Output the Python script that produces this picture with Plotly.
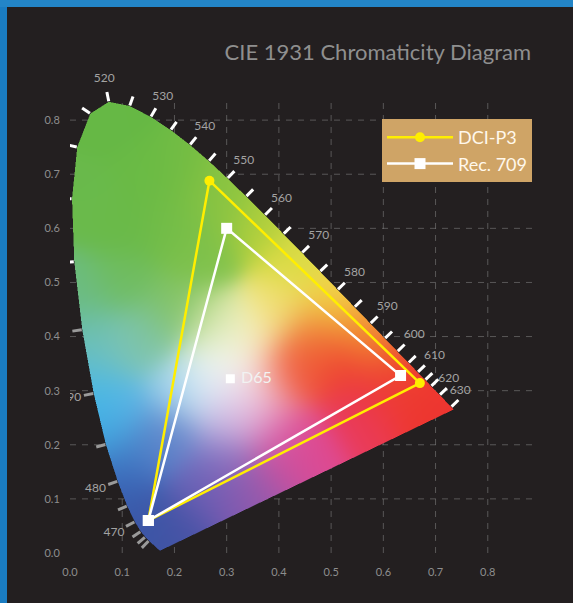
import base64
import struct
import zlib

import numpy as np
import plotly.graph_objects as go

# ---------------- data ----------------
WAVELENGTHS = list(range(380, 705, 5))
LOCUS_X = [0.1741, 0.1740, 0.1738, 0.1736, 0.1733, 0.1730, 0.1726, 0.1721, 0.1714, 0.1703,
           0.1689, 0.1669, 0.1644, 0.1611, 0.1566, 0.1510, 0.1440, 0.1355, 0.1241, 0.1096,
           0.0913, 0.0687, 0.0454, 0.0235, 0.0082, 0.0039, 0.0139, 0.0389, 0.0743, 0.1142,
           0.1547, 0.1929, 0.2296, 0.2658, 0.3016, 0.3373, 0.3731, 0.4087, 0.4441, 0.4788,
           0.5125, 0.5448, 0.5752, 0.6029, 0.6270, 0.6482, 0.6658, 0.6801, 0.6915, 0.7006,
           0.7079, 0.7140, 0.7190, 0.7230, 0.7260, 0.7283, 0.7300, 0.7311, 0.7320, 0.7327,
           0.7334, 0.7340, 0.7344, 0.7346, 0.7347]
LOCUS_Y = [0.0050, 0.0050, 0.0049, 0.0049, 0.0048, 0.0048, 0.0048, 0.0048, 0.0051, 0.0058,
           0.0069, 0.0086, 0.0109, 0.0138, 0.0177, 0.0227, 0.0297, 0.0399, 0.0578, 0.0868,
           0.1327, 0.2007, 0.2950, 0.4127, 0.5384, 0.6548, 0.7502, 0.8120, 0.8338, 0.8262,
           0.8059, 0.7816, 0.7543, 0.7243, 0.6923, 0.6589, 0.6245, 0.5896, 0.5547, 0.5202,
           0.4866, 0.4544, 0.4242, 0.3965, 0.3725, 0.3514, 0.3340, 0.3197, 0.3083, 0.2993,
           0.2920, 0.2859, 0.2809, 0.2770, 0.2740, 0.2717, 0.2700, 0.2689, 0.2680, 0.2673,
           0.2666, 0.2660, 0.2656, 0.2654, 0.2653]

TICK_WL = list(range(455, 625, 5)) + [630, 660]
LABEL_WL = [470, 480, 490, 500, 510, 520, 530, 540, 550, 560, 570, 580, 590, 600, 610, 620, 630]

DCI_P3_X = [0.150, 0.267, 0.670, 0.150]
DCI_P3_Y = [0.060, 0.688, 0.314, 0.060]
REC709_X = [0.150, 0.300, 0.633, 0.150]
REC709_Y = [0.060, 0.600, 0.328, 0.060]
D65_X = [0.307]
D65_Y = [0.322]

AXIS_TICKS = [0.0, 0.1, 0.2, 0.3, 0.4, 0.5, 0.6, 0.7, 0.8]
AXIS_TICK_TEXT = ["0.0", "0.1", "0.2", "0.3", "0.4", "0.5", "0.6", "0.7", "0.8"]

# colour samples: chromaticity x, y and the colour seen there
ANCHOR_X = [0.08, 0.15, 0.03, 0.22, 0.10, 0.20, 0.25, 0.28,
            0.30, 0.36, 0.43, 0.50, 0.56, 0.60, 0.65, 0.70,
            0.40, 0.35, 0.47, 0.45, 0.52, 0.40,
            0.45, 0.55, 0.40, 0.35, 0.30, 0.25, 0.30, 0.38, 0.33, 0.60,
            0.16, 0.12, 0.22, 0.10, 0.15, 0.07, 0.05, 0.10, 0.20, 0.20,
            0.04, 0.03, 0.10, 0.02, 0.10, 0.15, 0.20,
            0.27, 0.32, 0.25, 0.30, 0.27, 0.30, 0.35]
ANCHOR_Y = [0.80, 0.70, 0.65, 0.70, 0.60, 0.60, 0.55, 0.63,
            0.68, 0.61, 0.54, 0.47, 0.42, 0.38, 0.33, 0.28,
            0.45, 0.40, 0.40, 0.35, 0.35, 0.33,
            0.20, 0.26, 0.17, 0.12, 0.10, 0.12, 0.18, 0.24, 0.27, 0.30,
            0.03, 0.08, 0.05, 0.15, 0.20, 0.22, 0.27, 0.27, 0.30, 0.22,
            0.33, 0.40, 0.38, 0.48, 0.50, 0.40, 0.45,
            0.33, 0.33, 0.30, 0.38, 0.42, 0.25, 0.30]
ANCHOR_COLOR = ["#66b845", "#6abb45", "#6aba4c", "#74bd44", "#6aba48", "#72bd48", "#80c24c", "#86c344",
                "#8ec640", "#b2d03c", "#dcdc44", "#f2d848", "#f4a838", "#f07030", "#ee4030", "#ee3530",
                "#f0e070", "#f8f0b8", "#f08838", "#ef5035", "#ee3c30", "#f26a50",
                "#e04a92", "#ea3b5a", "#c850a0", "#9a5aac", "#7a58b0", "#6a64b8", "#8a78c4", "#e070b0",
                "#e8c8e8", "#ee3834",
                "#3d55a5", "#3a5aaa", "#4852a5", "#3b6cbc", "#5080c8", "#40a0dc", "#3cb8ea", "#60b8e8",
                "#98d0ec", "#6a88cc",
                "#5cbcd8", "#6cbfb0", "#7cc4b8", "#6cbc80", "#70bd60", "#80c4a0", "#80c262",
                "#eef5f8", "#fafafa", "#d0e8f5", "#f0f5e0", "#c8e098", "#c0b0e0", "#f5e0ec"]

# ---------------- geometry of the figure ----------------
FIG_W, FIG_H = 573, 603
M_L, M_R, M_T, M_B = 70, 33, 66, 50
X_MAX, Y_MAX = 0.9, 0.9
PLOT_W = FIG_W - M_L - M_R
PLOT_H = FIG_H - M_T - M_B
SX = PLOT_W / X_MAX
SY = PLOT_H / Y_MAX

# label placement near the crowded red end: (text position, offset in px)
LABEL_PLACE = {620: ("middle right", 10), 630: ("bottom right", 14)}


def hex_rgb(h):
    h = h.lstrip("#")
    return [int(h[i:i + 2], 16) for i in (0, 2, 4)]


def inside_polygon(px, py, vx, vy):
    res = np.zeros(px.shape, dtype=bool)
    n = len(vx)
    j = n - 1
    for i in range(n):
        yi, yj = vy[i], vy[j]
        xi, xj = vx[i], vx[j]
        if yi != yj:
            cond = ((yi > py) != (yj > py)) & (px < (xj - xi) * (py - yi) / (yj - yi) + xi)
            res ^= cond
        j = i
    return res


# colour fill of the spectral locus as an image
W_IMG, H_IMG = PLOT_W, PLOT_H
lx = np.array(LOCUS_X)
ly = np.array(LOCUS_Y)

SS = 2
xs = (np.arange(W_IMG * SS) + 0.5) / (W_IMG * SS) * X_MAX
ys = Y_MAX - (np.arange(H_IMG * SS) + 0.5) / (H_IMG * SS) * Y_MAX
GX, GY = np.meshgrid(xs, ys)
mask = inside_polygon(GX, GY, lx, ly).astype(float)
mask = mask.reshape(H_IMG, SS, W_IMG, SS).mean(axis=(1, 3))

xc = (np.arange(W_IMG) + 0.5) / W_IMG * X_MAX
yc = Y_MAX - (np.arange(H_IMG) + 0.5) / H_IMG * Y_MAX
CX, CY = np.meshgrid(xc, yc)
ax = np.array(ANCHOR_X)
ay = np.array(ANCHOR_Y)
ac = np.array([hex_rgb(c) for c in ANCHOR_COLOR], dtype=float)
d2 = (CX[..., None] - ax) ** 2 + (CY[..., None] - ay) ** 2
sigma = 0.042
logw = -d2 / (2 * sigma ** 2)
logw -= logw.max(axis=-1, keepdims=True)
w = np.exp(logw)
w /= w.sum(axis=-1, keepdims=True)
rgb = np.einsum("hwa,ac->hwc", w, ac)
rgba = np.zeros((H_IMG, W_IMG, 4), dtype=np.uint8)
rgba[..., :3] = np.clip(rgb, 0, 255).astype(np.uint8)
rgba[..., 3] = np.clip(mask * 255, 0, 255).astype(np.uint8)


def to_png(arr):
    h, wd, _ = arr.shape
    raw = b"".join(b"\x00" + arr[r].tobytes() for r in range(h))

    def chunk(t, d):
        return struct.pack(">I", len(d)) + t + d + struct.pack(">I", zlib.crc32(t + d) & 0xffffffff)

    return (b"\x89PNG\r\n\x1a\n" + chunk(b"IHDR", struct.pack(">IIBBBBB", wd, h, 8, 6, 0, 0, 0))
            + chunk(b"IDAT", zlib.compress(raw, 9)) + chunk(b"IEND", b""))


img_uri = "data:image/png;base64," + base64.b64encode(to_png(rgba)).decode()

# wavelength tick marks and labels (offsets along the outward normal, in pixels)
WHITE_PT = (0.33, 0.33)


def normal_at(wl):
    i = WAVELENGTHS.index(wl)
    x0, y0 = LOCUS_X[i - 1] * SX, LOCUS_Y[i - 1] * SY
    x1, y1 = LOCUS_X[i + 1] * SX, LOCUS_Y[i + 1] * SY
    tx, ty = x1 - x0, y1 - y0
    nx, ny = ty, -tx
    ln = (nx ** 2 + ny ** 2) ** 0.5
    nx, ny = nx / ln, ny / ln
    px, py = LOCUS_X[i] * SX, LOCUS_Y[i] * SY
    if nx * (px - WHITE_PT[0] * SX) + ny * (py - WHITE_PT[1] * SY) < 0:
        nx, ny = -nx, -ny
    return LOCUS_X[i], LOCUS_Y[i], nx, ny


tick_white_x, tick_white_y, tick_grey_x, tick_grey_y = [], [], [], []
for wl in TICK_WL:
    x, y, nx, ny = normal_at(wl)
    seg_x = [x + nx * 0.5 / SX, x + nx * 10 / SX, None]
    seg_y = [y + ny * 0.5 / SY, y + ny * 10 / SY, None]
    if wl <= 495:
        tick_grey_x += seg_x
        tick_grey_y += seg_y
    else:
        tick_white_x += seg_x
        tick_white_y += seg_y

lab_x, lab_y, lab_t, lab_pos = [], [], [], []
for wl in LABEL_WL:
    x, y, nx, ny = normal_at(wl)
    pos, d = LABEL_PLACE.get(wl, ("middle center", 23.5))
    lab_x.append(x + nx * d / SX)
    lab_y.append(y + ny * d / SY)
    lab_t.append(str(wl))
    lab_pos.append(pos)

# ---------------- figure ----------------
FONT = "Lato"
fig = go.Figure()

fig.add_trace(go.Scatter(x=tick_grey_x, y=tick_grey_y, mode="lines",
                         line=dict(color="#9a9a9a", width=3), hoverinfo="skip", showlegend=False))
fig.add_trace(go.Scatter(x=tick_white_x, y=tick_white_y, mode="lines",
                         line=dict(color="#ffffff", width=3), hoverinfo="skip", showlegend=False))
fig.add_trace(go.Scatter(x=lab_x, y=lab_y, mode="text", text=lab_t, textposition=lab_pos,
                         textfont=dict(family=FONT, size=12, color="#a3a3a3"),
                         hoverinfo="skip", showlegend=False))

fig.add_trace(go.Scatter(x=DCI_P3_X, y=DCI_P3_Y, mode="lines+markers", name="DCI-P3",
                         line=dict(color="#ffee00", width=2.5),
                         marker=dict(symbol="circle", size=10, color="#ffee00")))
fig.add_trace(go.Scatter(x=REC709_X, y=REC709_Y, mode="lines+markers", name="Rec. 709",
                         line=dict(color="#ffffff", width=2.5),
                         marker=dict(symbol="square", size=11, color="#ffffff")))
fig.add_trace(go.Scatter(x=D65_X, y=D65_Y, mode="markers+text", text=["\u00a0D65"],
                         textposition="middle right",
                         textfont=dict(family=FONT, size=16, color="#f2f2f2"),
                         marker=dict(symbol="square", size=9, color="#ffffff"),
                         showlegend=False, hoverinfo="skip"))

shapes = []
# blue frame strips
shapes.append(dict(type="rect", xref="paper", yref="paper",
                   x0=-M_L / PLOT_W, x1=(7 - M_L) / PLOT_W,
                   y0=-M_B / PLOT_H, y1=(FIG_H - M_B) / PLOT_H,
                   fillcolor="#1a7cc1", line=dict(width=0), layer="below"))
shapes.append(dict(type="rect", xref="paper", yref="paper",
                   x0=-M_L / PLOT_W, x1=(FIG_W - M_L) / PLOT_W,
                   y0=(FIG_H - M_B - 7) / PLOT_H, y1=(FIG_H - M_B) / PLOT_H,
                   fillcolor="#2385c7", line=dict(width=0), layer="below"))
GRID_COLOR = "rgba(125,125,125,0.6)"
for v in AXIS_TICKS[1:]:
    shapes.append(dict(type="line", xref="x", yref="y", x0=v, x1=v, y0=0, y1=0.841,
                       line=dict(color=GRID_COLOR, width=1, dash="6px,6px"), layer="below"))
    shapes.append(dict(type="line", xref="x", yref="y", x0=0, x1=0.885, y0=v, y1=v,
                       line=dict(color=GRID_COLOR, width=1, dash="6px,6px"), layer="below"))

axis_common = dict(tickvals=AXIS_TICKS, ticktext=AXIS_TICK_TEXT, showgrid=False, zeroline=False,
                   showline=False, ticks="outside", tickcolor="rgba(0,0,0,0)",
                   tickfont=dict(family=FONT, size=11, color="#8e8e8e"), fixedrange=True)

fig.update_layout(
    width=FIG_W, height=FIG_H,
    margin=dict(l=M_L, r=M_R, t=M_T, b=M_B),
    paper_bgcolor="#231f20", plot_bgcolor="#231f20",
    xaxis=dict(range=[0, X_MAX], ticklen=9, **axis_common),
    yaxis=dict(range=[0, Y_MAX], ticklen=7, **axis_common),
    title=dict(text="CIE 1931 Chromaticity Diagram", x=531 / FIG_W, xanchor="right",
               y=1 - 52 / FIG_H, yanchor="middle",
               font=dict(family=FONT, size=22, color="#8f8f8f")),
    legend=dict(x=(382 - M_L) / PLOT_W, y=(FIG_H - M_B - 119) / PLOT_H, xanchor="left", yanchor="top",
                bgcolor="#cfa466", borderwidth=0, itemwidth=66,
                font=dict(family=FONT, size=18, color="#fff8ec")),
    images=[dict(source=img_uri, xref="x", yref="y", x=0, y=Y_MAX, sizex=X_MAX, sizey=Y_MAX,
                 sizing="stretch", xanchor="left", yanchor="top", layer="below")],
    shapes=shapes,
    showlegend=True,
)

fig.write_html("out.html", config={"displayModeBar": False},
               post_script="document.body.style.margin='0';document.body.style.overflow='hidden';")
